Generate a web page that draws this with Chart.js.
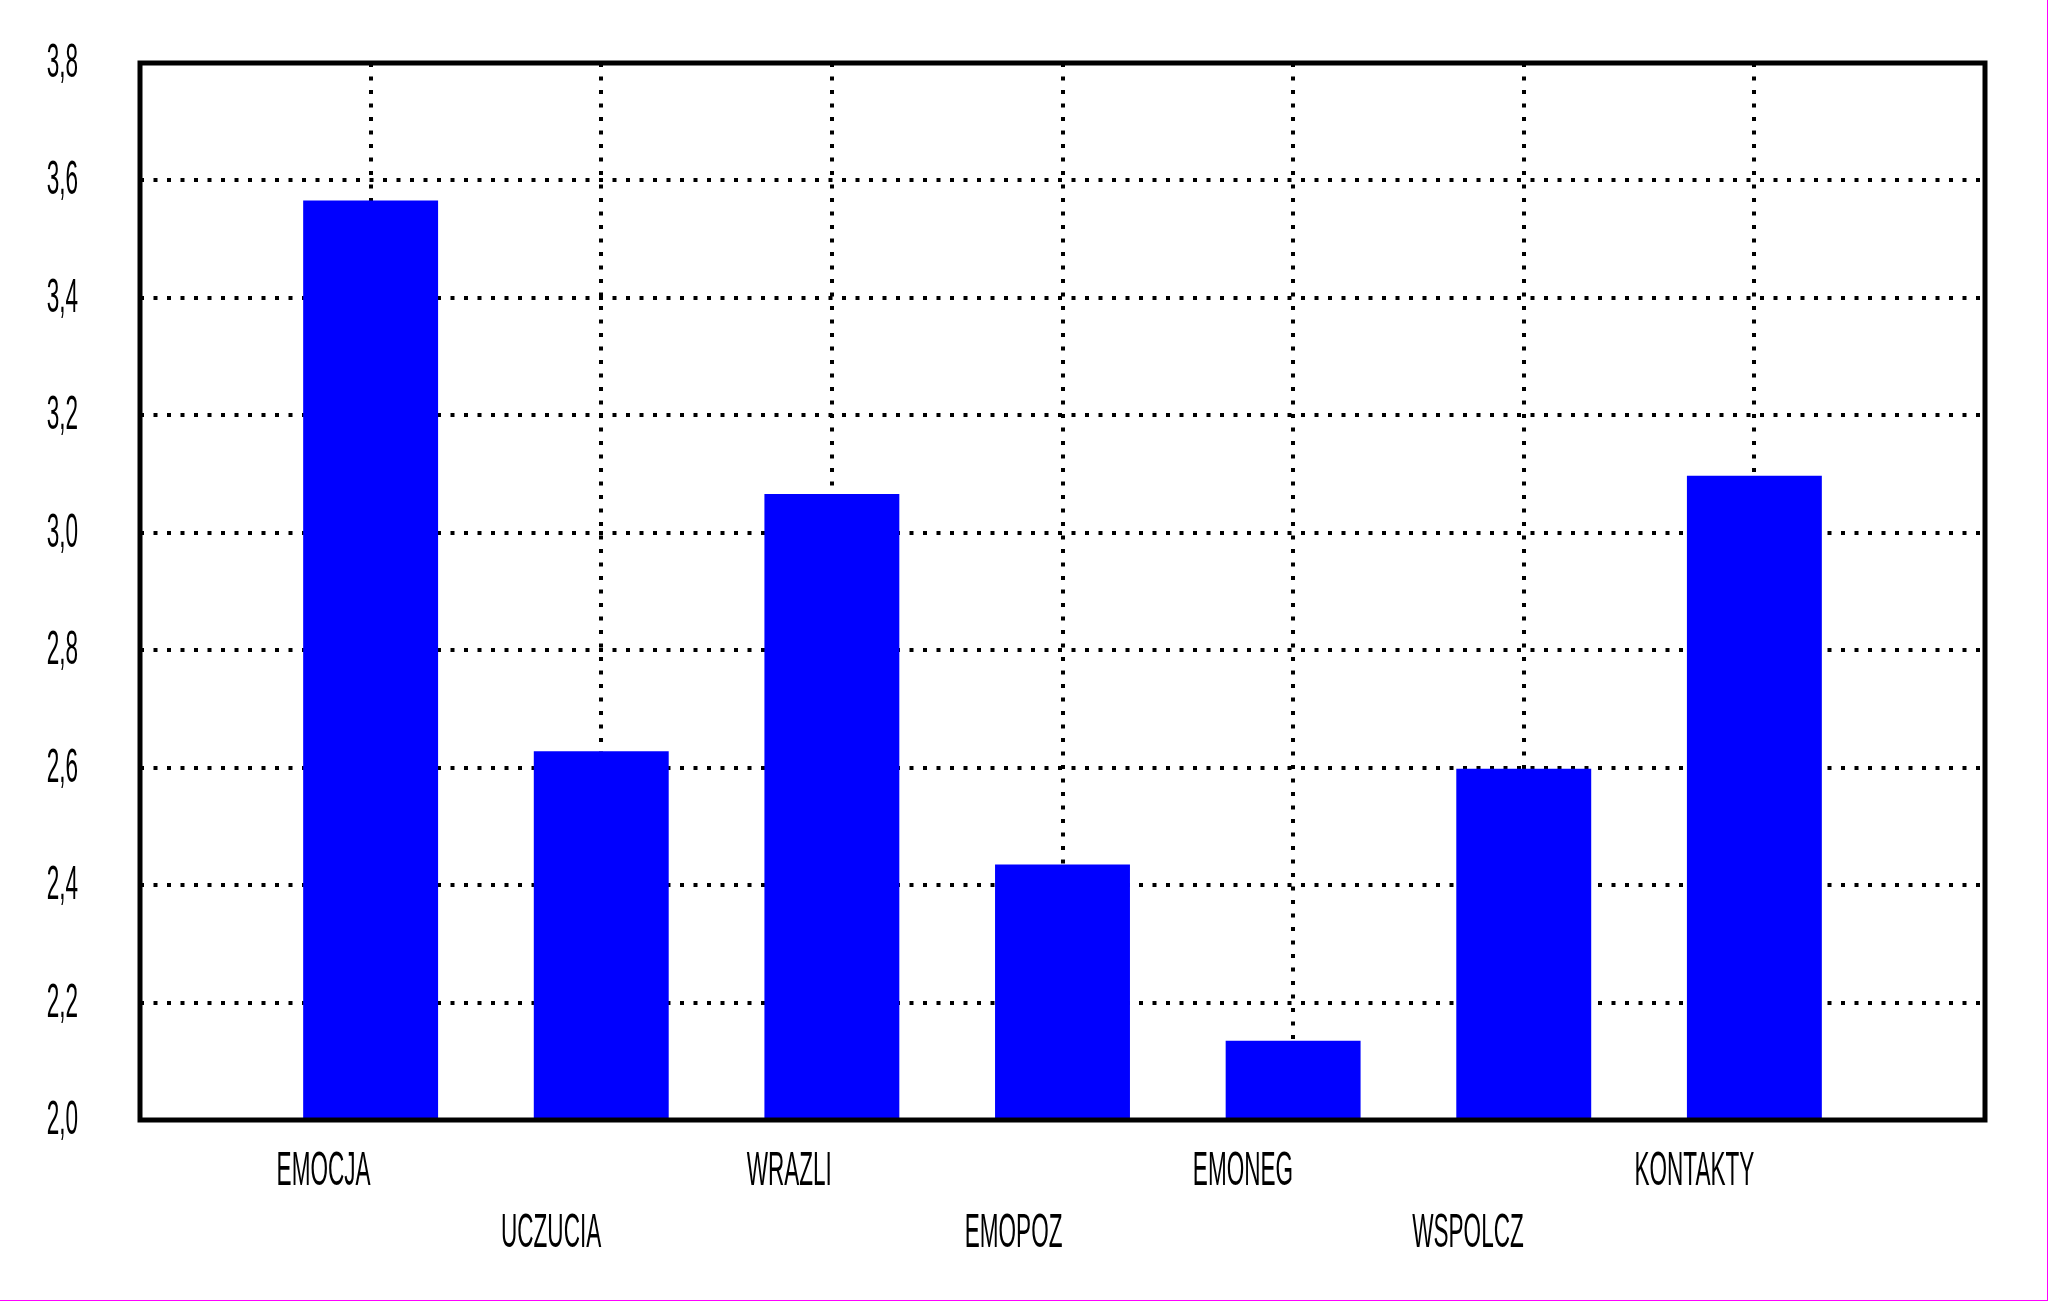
<!DOCTYPE html>
<html>
<head>
<meta charset="utf-8">
<script src="https://cdn.jsdelivr.net/npm/chart.js@4"></script>
<style>
    body { margin: 0; background: #fff; }
    canvas { display: block; }
</style>
</head>
<body>
<canvas id="meansChart" width="2048" height="1301"></canvas>
<script>
// Values
const categories = ['EMOCJA', 'UCZUCIA', 'WRAZLI', 'EMOPOZ', 'EMONEG', 'WSPOLCZ', 'KONTAKTY'];
const means = [3.566, 2.628, 3.066, 2.435, 2.135, 2.598, 3.097];
const yTicks = [2.0, 2.2, 2.4, 2.6, 2.8, 3.0, 3.2, 3.4, 3.6, 3.8];

// one empty slot on each side, like the original plot
const labels = [''].concat(categories, ['']);
const values = [null].concat(means, [null]);

const labelFont = '48px "Liberation Sans", Arial, sans-serif';
const squeeze = 0.47;

function drawNarrow(ctx, text, x, y, align) {
    ctx.save();
    ctx.translate(x, y);
    ctx.scale(squeeze, 1);
    ctx.textAlign = align;
    ctx.textBaseline = 'alphabetic';
    ctx.fillText(text, 0, 0);
    ctx.restore();
}

// frame, tick labels and the page edge
const framePlugin = {
    id: 'frameAndLabels',
    afterDraw(chart) {
        let ctx = chart.ctx;
        let area = chart.chartArea;
        let xScale = chart.scales.x;
        let yScale = chart.scales.y;

        ctx.save();
        ctx.strokeStyle = '#000';
        ctx.lineWidth = 5;
        ctx.strokeRect(area.left, area.top, area.right - area.left, area.bottom - area.top);

        ctx.fillStyle = '#000';
        ctx.font = labelFont;
        categories.forEach((name, i) => {
            let px = xScale.getPixelForValue(i + 1);
            let row = i % 2 === 0 ? 65 : 127;
            drawNarrow(ctx, name, px, area.bottom + row, 'right');
        });
        yTicks.forEach(v => {
            let py = yScale.getPixelForValue(v);
            drawNarrow(ctx, v.toFixed(1).replace('.', ','), area.left - 62, py + 14, 'right');
        });

        ctx.fillStyle = '#ff00ff';
        ctx.fillRect(chart.width - 1, 0, 1, chart.height);
        ctx.fillRect(0, chart.height - 1, chart.width, 1);
        ctx.restore();
    }
};

new Chart(document.getElementById('meansChart').getContext('2d'), {
    type: 'bar',
    data: {
        labels: labels,
        datasets: [{
            data: values,
            backgroundColor: '#0000ff',
            borderWidth: 0,
            barPercentage: 0.585,
            categoryPercentage: 1
        }]
    },
    options: {
        responsive: false,
        animation: false,
        layout: { padding: { left: 140, top: 63, right: 63, bottom: 181 } },
        plugins: {
            legend: { display: false },
            tooltip: { enabled: false }
        },
        scales: {
            x: {
                offset: false,
                grid: { offset: false, color: '#000', lineWidth: 4, drawTicks: false },
                border: { display: false, dash: [4, 9.5] },
                ticks: { display: false }
            },
            y: {
                min: 2.0,
                max: 3.8,
                ticks: { display: false, stepSize: 0.2 },
                grid: { color: '#000', lineWidth: 4, drawTicks: false },
                border: { display: false, dash: [4, 9.5] }
            }
        }
    },
    plugins: [framePlugin]
});
</script>
</body>
</html>
